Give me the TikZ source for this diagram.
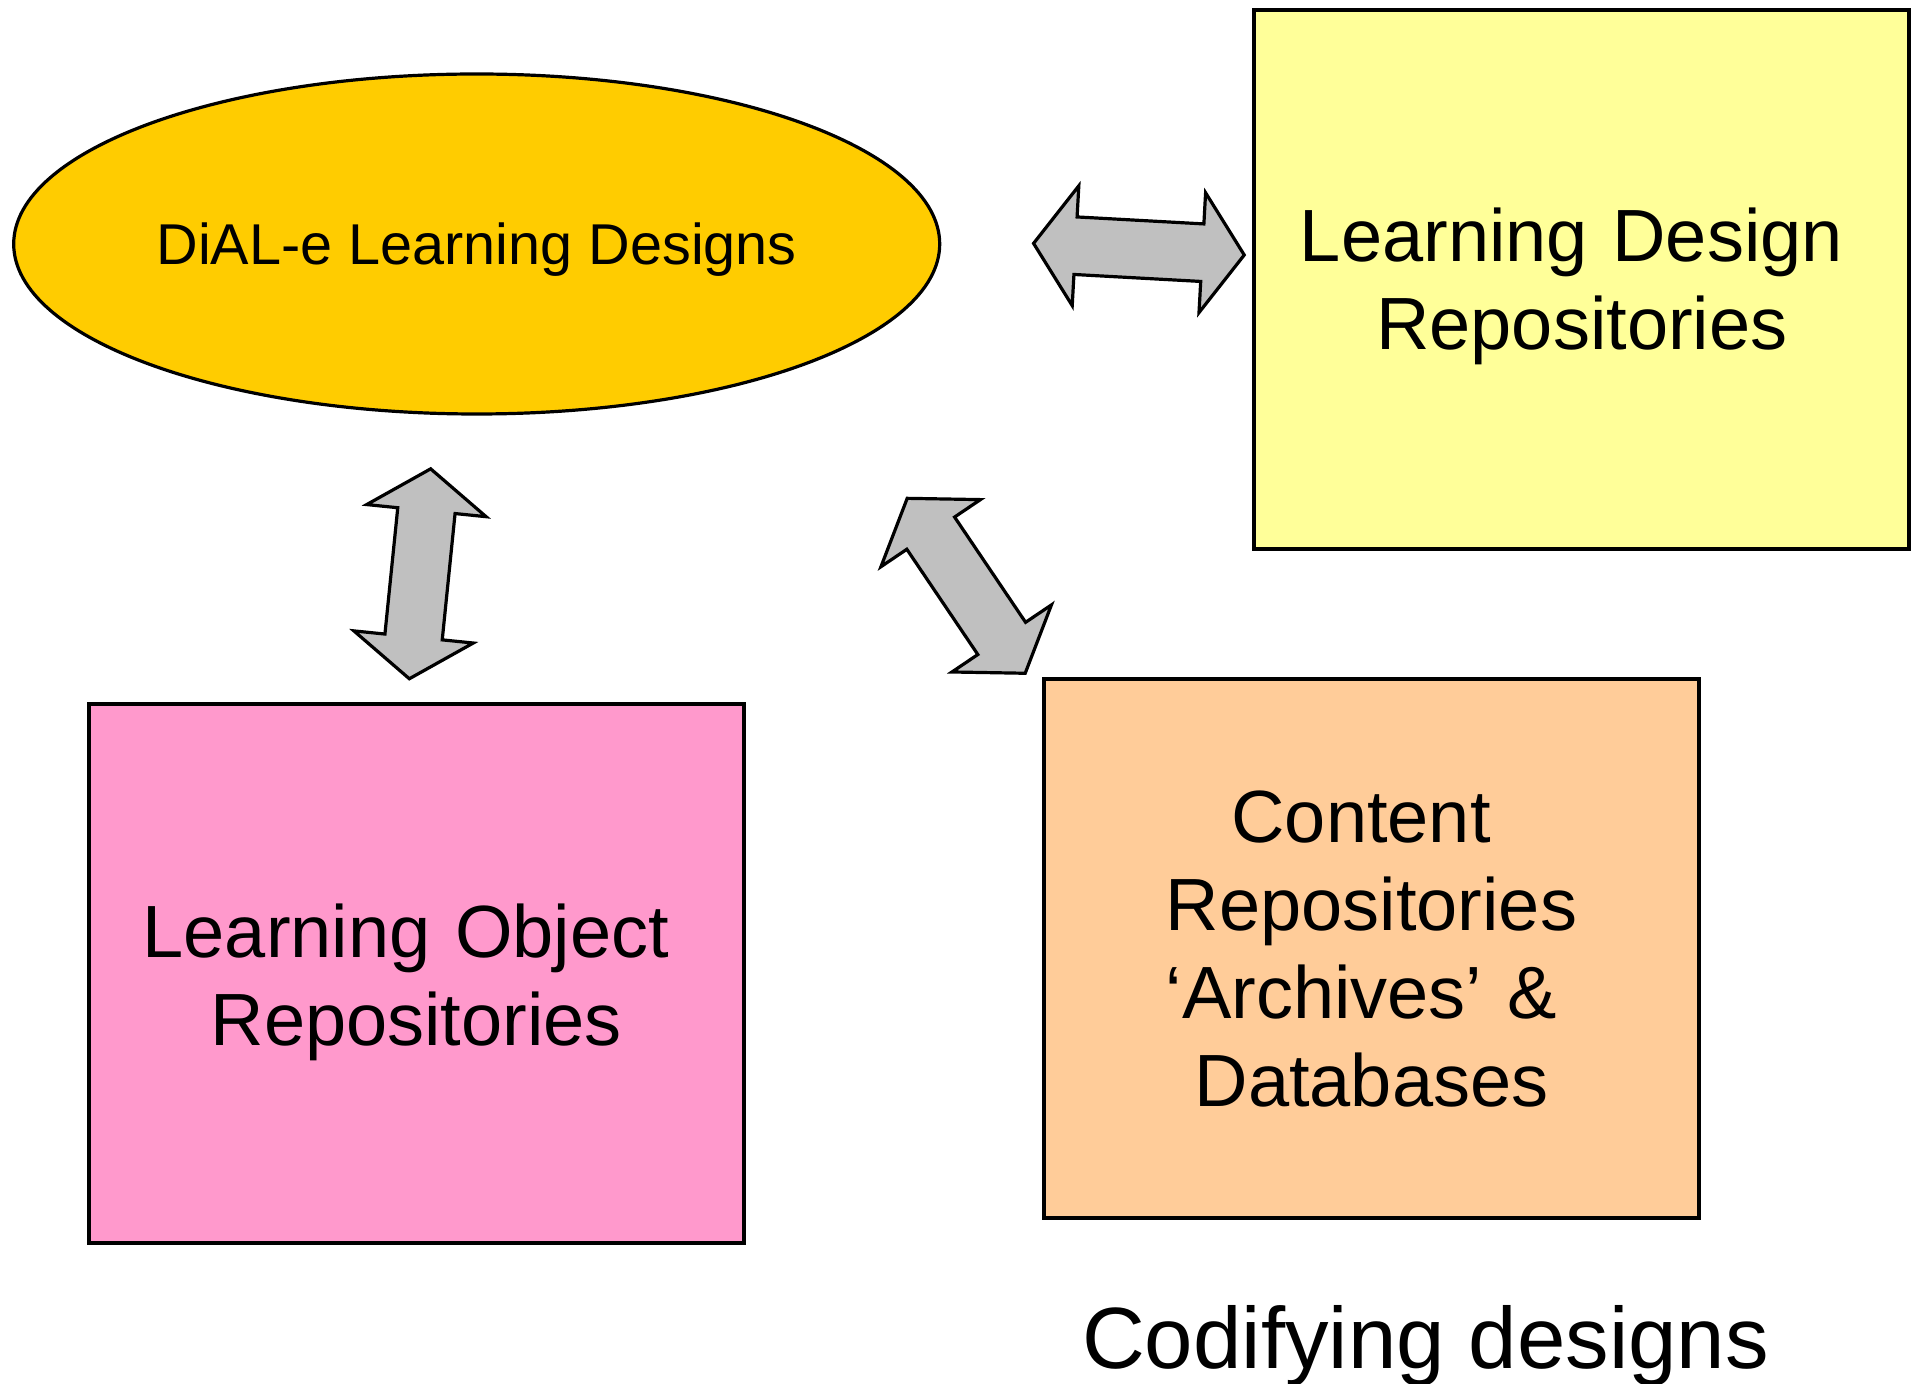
\documentclass[tikz,border=0pt]{standalone}
\usepackage{fontspec}
\setmainfont{Liberation Sans}
\usetikzlibrary{shapes.geometric, shapes.arrows}

\definecolor{dialgold}{HTML}{FFCC00}
\definecolor{ldryellow}{HTML}{FFFF99}
\definecolor{lorpink}{HTML}{FF99CC}
\definecolor{crpeach}{HTML}{FFCC99}
\definecolor{arrowgray}{HTML}{C0C0C0}

\newcommand{\trail}{\mbox{\hspace{.28em}}}

\tikzset{
  repobox/.style={rectangle, draw, line width=2pt, minimum width=327.5pt, minimum height=269.5pt, inner sep=0pt},
  repotext/.style={anchor=base, text width=320pt, align=center, inner sep=0pt, font=\fontsize{37pt}{44pt}\selectfont},
  linkarrow/.style={double arrow, draw, fill=arrowgray, line width=1.6pt, inner xsep=0pt, inner ysep=13.6pt,
    double arrow head extend=15.6pt, double arrow tip angle=110, minimum height=105.5pt}
}

\begin{document}
\begin{tikzpicture}[x=0.5pt, y=-0.5pt]
  \useasboundingbox (0,0) rectangle (1921,1384);
  % designs and repositories
  \node[ellipse, draw, line width=1.6pt, fill=dialgold, minimum width=463pt, minimum height=170pt, inner sep=0pt,
    text depth=0pt, font=\fontsize{28.8pt}{34pt}\selectfont] (dial) at (476.7,244) {DiAL-e Learning Designs};
  \node[repobox, fill=ldryellow] (ldr) at (1581.8,279.2) {};
  \node[repobox, fill=lorpink] (lor) at (416.3,973.7) {};
  \node[repobox, fill=crpeach] (cr) at (1371.5,948.5) {};
  \node[repotext] (ldrtext) at (1581.8,262) {Learning Design\trail\\Repositories};
  \node[repotext] (lortext) at (416.3,957.7) {Learning Object\trail\\Repositories};
  \node[repotext] (crtext) at (1371.5,842.7) {Content\trail\\Repositories\\‘Archives’ \&\trail\\Databases};
  % links between them
  \node[linkarrow, rotate=-3.15] (ldrlink) at (1138.9,249.2) {};
  \node[linkarrow, rotate=84.2] (lorlink) at (420,573.8) {};
  \node[linkarrow, rotate=124] (crlink) at (966.2,585.8) {};
  \node[anchor=base, inner sep=0pt, font=\fontsize{43.5pt}{52pt}\selectfont] (caption) at (1425.5,1368.5) {Codifying designs};
\end{tikzpicture}
\end{document}
